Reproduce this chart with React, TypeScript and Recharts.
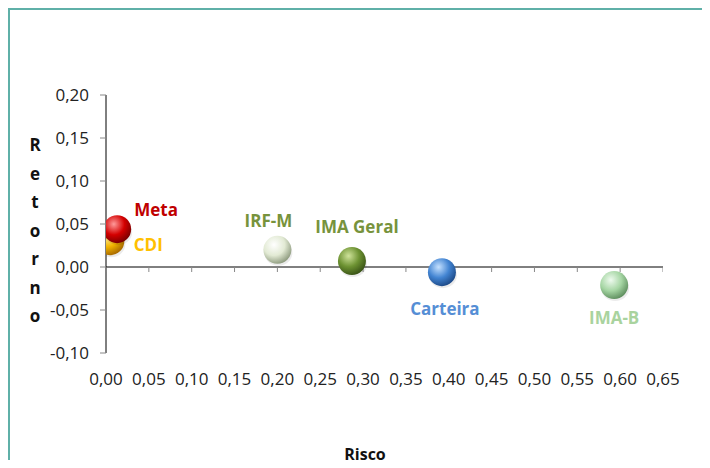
import { ScatterChart, Scatter, XAxis, YAxis, ReferenceLine } from "recharts";

const names = ["CDI", "Meta", "IRF-M", "IMA Geral", "Carteira", "IMA-B"];
const risco = [0.005, 0.013, 0.2, 0.287, 0.392, 0.593];
const retorno = [0.03, 0.044, 0.02, 0.007, -0.006, -0.021];

const xTicks = [0, 0.05, 0.1, 0.15, 0.2, 0.25, 0.3, 0.35, 0.4, 0.45, 0.5, 0.55, 0.6, 0.65];
const yTicks = [-0.1, -0.05, 0, 0.05, 0.1, 0.15, 0.2];

// sphere colours: highlight, base, rim; label colour; label offset from the ball
const STYLE: Record<string, { hi: string; base: string; rim: string; label: string; dx: number; dy: number }> = {
  CDI: { hi: "#fff0a0", base: "#f2b400", rim: "#a86a00", label: "#ffc000", dx: 38, dy: 3 },
  Meta: { hi: "#ff9a9a", base: "#d40000", rim: "#7a0000", label: "#c00000", dx: 39, dy: -20 },
  "IRF-M": { hi: "#ffffff", base: "#e2ead4", rim: "#8f9c80", label: "#77933c", dx: -9, dy: -29 },
  "IMA Geral": { hi: "#cfe39a", base: "#6d9232", rim: "#3a5416", label: "#77933c", dx: 5, dy: -34 },
  Carteira: { hi: "#c4e0ff", base: "#4284d2", rim: "#1d4a88", label: "#558ed5", dx: 3, dy: 36 },
  "IMA-B": { hi: "#eefaee", base: "#a6d6a4", rim: "#5f8f5f", label: "#a9d39e", dx: 0, dy: 32 },
};

const fmt = (v: number) => v.toFixed(2).replace(".", ",");

function Ball(props: any) {
  const { cx, cy, payload } = props;
  const s = STYLE[payload.name];
  const id = "g-" + payload.name.replace(/\s/g, "");
  return (
    <g>
      <defs>
        <radialGradient id={id} cx="38%" cy="32%" r="70%">
          <stop offset="0%" stopColor={s.hi} />
          <stop offset="55%" stopColor={s.base} />
          <stop offset="100%" stopColor={s.rim} />
        </radialGradient>
      </defs>
      <ellipse cx={cx + 1} cy={cy + 3} rx={14} ry={13} fill="#000" opacity={0.08} />
      <circle cx={cx} cy={cy} r={14} fill={`url(#${id})`} />
      <text
        x={cx + s.dx}
        y={cy + s.dy}
        textAnchor="middle"
        dominantBaseline="central"
        fontFamily="Open Sans"
        fontWeight="bold"
        fontSize={17}
        fill={s.label}
      >
        {payload.name}
      </text>
    </g>
  );
}

function TickMark(props: any) {
  const { cx, cy } = props;
  return <line x1={cx} y1={cy} x2={cx} y2={cy + 5} stroke="#888" strokeWidth={1} />;
}

export default function App() {
  const points = names.map((name, i) => ({ name, x: risco[i], y: retorno[i] }));
  const tickPts = xTicks.map((x) => ({ x, y: 0 }));
  const tickStyle = { fontFamily: "Open Sans", fontSize: 17, fill: "#222" };
  return (
    <div
      style={{
        position: "relative",
        width: 702,
        height: 452,
        boxSizing: "border-box",
        borderTop: "2px solid #5fb0a8",
        borderLeft: "2px solid #5fb0a8",
        borderRight: "2px solid #5fb0a8",
        background: "#fff",
      }}
    >
      <div style={{ position: "absolute", top: -10, left: -4, width: 706, height: 2, background: "#17806f" }} />
      <ScatterChart width={698} height={450} margin={{ top: 85, right: 45, left: 36, bottom: 77 }}>
        <XAxis
          type="number"
          dataKey="x"
          domain={[0, 0.65]}
          ticks={xTicks}
          tickFormatter={fmt}
          axisLine={false}
          tickLine={false}
          tickMargin={14}
          height={30}
          tick={tickStyle}
          interval={0}
          allowDataOverflow
        />
        <YAxis
          type="number"
          dataKey="y"
          domain={[-0.1, 0.2]}
          ticks={yTicks}
          tickFormatter={fmt}
          axisLine={{ stroke: "#000" }}
          tickLine={{ stroke: "#888" }}
          tickSize={6}
          tickMargin={11}
          width={60}
          tick={tickStyle}
          interval={0}
          allowDataOverflow
        />
        <ReferenceLine y={0} stroke="#000" strokeWidth={1} />
        <Scatter data={tickPts} shape={<TickMark />} isAnimationActive={false} />
        <Scatter data={points} shape={<Ball />} isAnimationActive={false} />
      </ScatterChart>
      <div
        style={{
          position: "absolute",
          left: 15,
          top: 121,
          width: 20,
          textAlign: "center",
          fontFamily: "Open Sans",
          fontWeight: "bold",
          fontSize: 17,
          lineHeight: "28.5px",
          color: "#111",
        }}
      >
        {"Retorno".split("").map((c, i) => (
          <div key={i}>{c}</div>
        ))}
      </div>
      <div
        style={{
          position: "absolute",
          left: 305,
          top: 433,
          width: 100,
          textAlign: "center",
          fontFamily: "Open Sans",
          fontWeight: "bold",
          fontSize: 16,
          color: "#111",
        }}
      >
        Risco
      </div>
    </div>
  );
}
